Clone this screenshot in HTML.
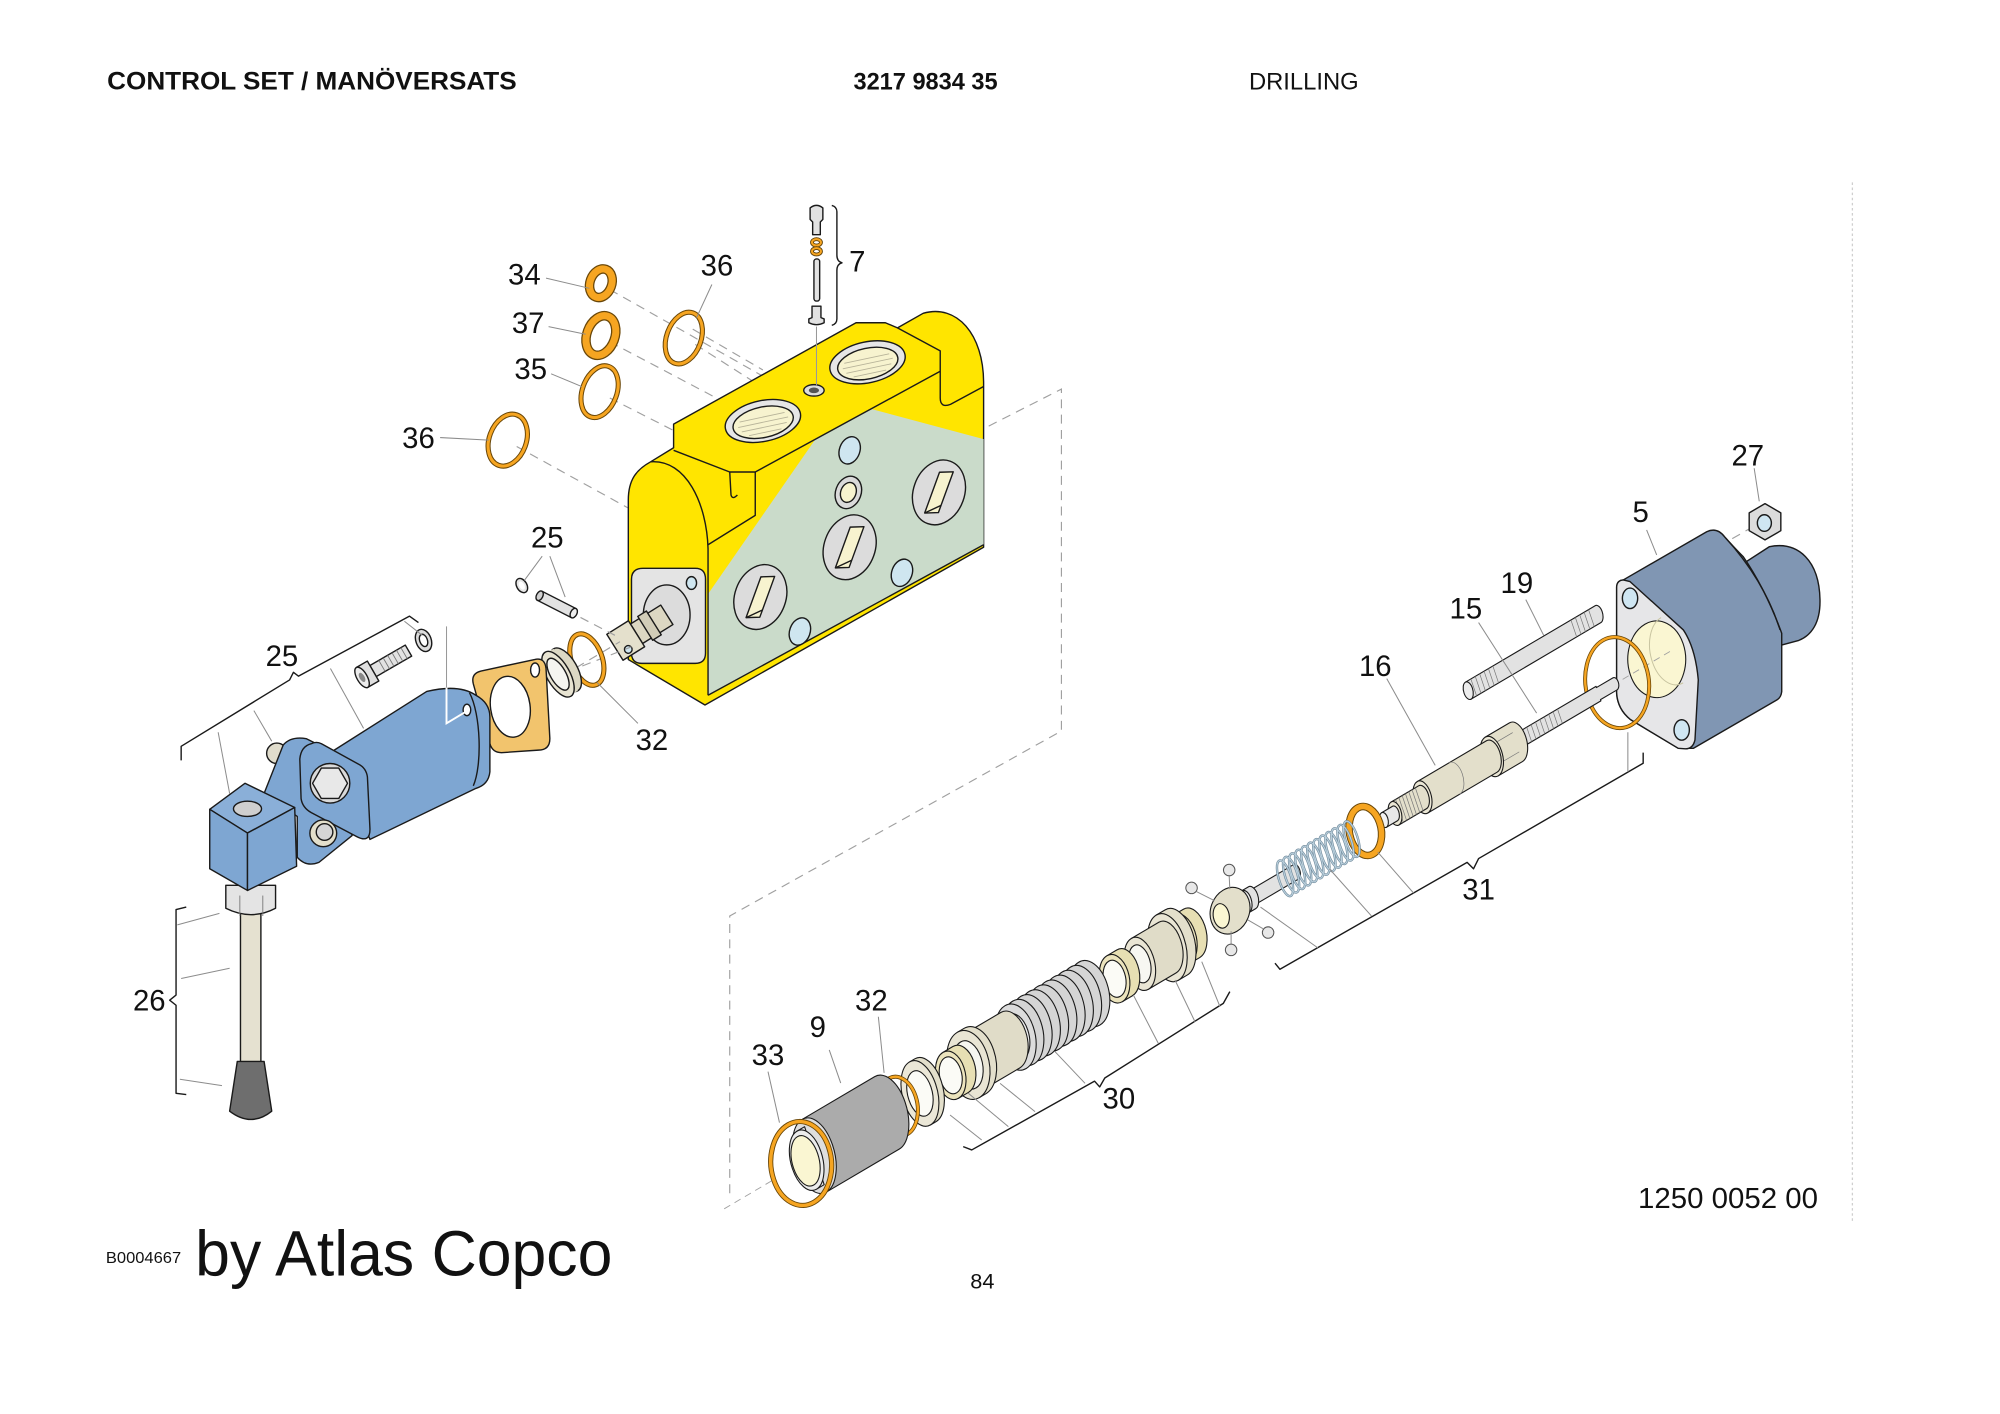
<!DOCTYPE html>
<html><head><meta charset="utf-8"><style>
html,body{margin:0;padding:0;background:#fff;}
svg{display:block;}
</style></head><body>
<svg width="2000" height="1414" viewBox="0 0 1567.7 1108.4" preserveAspectRatio="none" xmlns="http://www.w3.org/2000/svg">
<style>
.o{stroke:#1a1a1a;stroke-width:1.1;stroke-linejoin:round}
.l{stroke:#8c8c8c;stroke-width:0.8;fill:none}
.d{stroke:#a0a0a0;stroke-width:0.9;fill:none;stroke-dasharray:7 5}
.th{stroke:#777;stroke-width:0.7;fill:none}
.f *{vector-effect:non-scaling-stroke}
.rb{fill:none;stroke:#6a4708;stroke-width:5.2}
.ro{fill:none;stroke:#f6a521;stroke-width:3.4}
.rbt{fill:none;stroke:#6a4708;stroke-width:4}
.rot{fill:none;stroke:#f6a521;stroke-width:2.4}
.rbk{fill:none;stroke:#6a4708;stroke-width:7.5}
.rok{fill:none;stroke:#f6a521;stroke-width:5.5}
.sp1{fill:none;stroke:#6d8799;stroke-width:2.4}
.sp2{fill:none;stroke:#b9cfdc;stroke-width:1.2}
text{font-family:"Liberation Sans",Arial,sans-serif;fill:#111}
.lb{font-size:23px;text-anchor:middle}
</style>
<rect width="1567.7" height="1108.4" fill="#fff"/>

<!-- header -->
<text x="84" y="70" font-size="19.5" font-weight="bold" textLength="321" lengthAdjust="spacingAndGlyphs">CONTROL SET / MANÖVERSATS</text>
<text x="669" y="70" font-size="19" font-weight="bold" textLength="113" lengthAdjust="spacingAndGlyphs">3217 9834 35</text>
<text x="979" y="70" font-size="19" textLength="86" lengthAdjust="spacingAndGlyphs">DRILLING</text>

<line x1="1452" y1="143" x2="1452" y2="958" stroke="#cfcfcf" stroke-width="1" stroke-dasharray="2 2"/>

<!-- dashed frame -->
<polyline class="d" points="775,334 832,305 832,573 572,718 572,940"/>

<!-- dashed lines from upper rings -->
<line class="d" x1="478" y1="227" x2="600" y2="296"/>
<line class="d" x1="543" y1="258" x2="598" y2="290"/>
<line class="d" x1="545" y1="270" x2="592" y2="300"/>
<line class="d" x1="478" y1="268" x2="573" y2="318"/>
<line class="d" x1="478" y1="312" x2="533" y2="340"/>
<line class="d" x1="405" y1="350" x2="492" y2="398"/>

<!-- YELLOW BLOCK -->
<path class="o" fill="#ffe500" d="M492.5,517 L492.5,392 C492.5,376 499,368 510,362 L528,351 L528,332.5 L671,253 L694,253 L703.5,257 L723.6,245.6 C750,238 771,262 771,300 L771,429 L552.6,552.6 Z"/>
<path fill="#cadbca" d="M555,545 L555,465.6 L639.2,344.2 L683.4,320.7 L771,344.2 L771,427 Z"/>
<path class="o" fill="none" d="M555,430 L555,545"/>
<path class="o" fill="none" d="M555,545 L771,427"/>
<path class="o" fill="none" stroke-width="0.8" d="M510,362 C538,360 554,395 555,430"/>
<path class="o" fill="none" stroke-width="0.8" d="M528,353 L572,370 L592,370 L737,291"/>
<path class="o" fill="none" stroke-width="0.8" d="M572,370 L573,388 Q574,392 578,388"/>
<path class="o" fill="none" stroke-width="0.8" d="M592,370 L592,404 L555,427"/>
<path class="o" fill="none" stroke-width="0.8" d="M703.5,257 L737,275 L737,312 Q737,320 745,317 L771,303"/>

<!-- flange on end face -->
<path class="o" fill="#e4e4e4" d="M504,445.5 L545,445.5 Q553,445.5 553,454 L553,512 Q553,520 545,520 L503,520 Q495,520 495,512 L495,454 Q495,445.5 504,445.5 Z"/>
<ellipse class="o" cx="522.6" cy="482" rx="18.3" ry="23.5" fill="#dcdcdc"/>
<ellipse class="o" cx="542" cy="457" rx="4" ry="5" fill="#cfe6f0"/>
<g transform="translate(521,483) rotate(-32)">
<rect class="o" x="-26" y="-9" width="28" height="18" fill="#dcd7c2"/>
<rect class="o" x="-18" y="-11" width="8" height="22" fill="#d2cdb8"/>
<rect class="o" x="-46" y="-12" width="20" height="24" fill="#e4e0cc"/>
<ellipse class="o" cx="-38" cy="7" rx="3" ry="3" fill="#cfe6f0"/>
</g>

<!-- top ports -->
<g transform="rotate(-12 598 330)">
<ellipse class="o" cx="598" cy="330" rx="30" ry="16" fill="#e6e6e6"/>
<ellipse class="o" cx="598" cy="331" rx="24" ry="12" fill="#f7f3cf"/>
<path stroke="#b8b49a" stroke-width="0.7" fill="none" d="M580,327 H616 M578,331 H618 M580,335 H616 M585,339 H611"/>
</g>
<g transform="rotate(-12 680 284)">
<ellipse class="o" cx="680" cy="284" rx="30" ry="16" fill="#e6e6e6"/>
<ellipse class="o" cx="680" cy="285" rx="24" ry="12" fill="#f7f3cf"/>
<path stroke="#b8b49a" stroke-width="0.7" fill="none" d="M662,281 H698 M660,285 H700 M662,289 H698 M667,293 H693"/>
</g>
<ellipse class="o" cx="638" cy="306" rx="8" ry="4.5" fill="#ddd"/>
<ellipse cx="638" cy="306" rx="4" ry="2.2" fill="#555"/>

<!-- green face features -->
<ellipse class="o" cx="666" cy="353" rx="8" ry="11" transform="rotate(20 666 353)" fill="#cfe6f0"/>
<ellipse class="o" cx="707" cy="449" rx="8" ry="11" transform="rotate(20 707 449)" fill="#cfe6f0"/>
<ellipse class="o" cx="627" cy="495" rx="8" ry="11" transform="rotate(20 627 495)" fill="#cfe6f0"/>
<ellipse class="o" cx="665" cy="386" rx="10" ry="13" fill="#dadada" transform="rotate(20 665 386)"/>
<ellipse class="o" cx="665" cy="386" rx="6" ry="8" fill="#f7f3cf" transform="rotate(20 665 386)"/>
<g transform="translate(666,429) rotate(20)"><ellipse class="o" rx="20" ry="26" fill="#dcdcdc"/><path class="o" fill="#f7f3cf" d="M-5,-15 L5,-19 L5,15 L-5,19 Z"/><path class="o" fill="none" stroke-width="0.6" d="M-5,19 L5,9"/></g>
<g transform="translate(736,386) rotate(20)"><ellipse class="o" rx="20" ry="26" fill="#dcdcdc"/><path class="o" fill="#f7f3cf" d="M-5,-15 L5,-19 L5,15 L-5,19 Z"/><path class="o" fill="none" stroke-width="0.6" d="M-5,19 L5,9"/></g>
<g transform="translate(596,468) rotate(20)"><ellipse class="o" rx="20" ry="26" fill="#dcdcdc"/><path class="o" fill="#f7f3cf" d="M-5,-15 L5,-19 L5,15 L-5,19 Z"/><path class="o" fill="none" stroke-width="0.6" d="M-5,19 L5,9"/></g>

<!-- upper O-rings -->
<ellipse cx="471" cy="222" rx="8.5" ry="11.5" transform="rotate(20 471 222)" class="rbk"/>
<ellipse cx="471" cy="222" rx="8.5" ry="11.5" transform="rotate(20 471 222)" class="rok"/>
<ellipse cx="471" cy="263" rx="11" ry="16" transform="rotate(20 471 263)" class="rbk"/>
<ellipse cx="471" cy="263" rx="11" ry="16" transform="rotate(20 471 263)" class="rok"/>
<ellipse cx="470" cy="307" rx="13.5" ry="21" transform="rotate(20 470 307)" class="rbt"/>
<ellipse cx="470" cy="307" rx="13.5" ry="21" transform="rotate(20 470 307)" class="rot"/>
<ellipse cx="536" cy="265" rx="13.5" ry="21" transform="rotate(20 536 265)" class="rbt"/>
<ellipse cx="536" cy="265" rx="13.5" ry="21" transform="rotate(20 536 265)" class="rot"/>
<ellipse cx="398" cy="345" rx="14.5" ry="21" transform="rotate(20 398 345)" class="rbt"/>
<ellipse cx="398" cy="345" rx="14.5" ry="21" transform="rotate(20 398 345)" class="rot"/>

<!-- item 7 -->
<path class="o" fill="#e2e2e2" d="M635,163 Q640,159 645,163 L645,172 L643,174 L643,184 L637,184 L637,174 L635,172 Z"/>
<ellipse cx="640" cy="190" rx="3.5" ry="2.5" fill="none" stroke="#5a3d08" stroke-width="3"/>
<ellipse cx="640" cy="190" rx="3.5" ry="2.5" fill="none" stroke="#f6a521" stroke-width="1.6"/>
<ellipse cx="640" cy="197" rx="3.5" ry="2.5" fill="none" stroke="#5a3d08" stroke-width="3"/>
<ellipse cx="640" cy="197" rx="3.5" ry="2.5" fill="none" stroke="#f6a521" stroke-width="1.6"/>
<rect class="o" x="638" y="203" width="4.5" height="33" rx="2" fill="#e2e2e2"/>
<path class="o" fill="#e2e2e2" d="M636.5,240 L643.5,240 L643.5,249 L646,250 L646,253 Q640,256 634,253 L634,250 L636.5,249 Z"/>
<line x1="640" y1="256" x2="640" y2="302" stroke="#999" stroke-width="0.8"/>
<path class="o" fill="none" d="M652,161 Q656,162 656,166 L656,200 Q656,205 660,206 Q656,207 656,212 L656,250 Q656,254 652,255"/>

<!-- item 25 small parts -->
<line class="d" x1="455" y1="484" x2="482" y2="498"/>
<ellipse class="o" cx="409" cy="459" rx="4" ry="6" fill="#e6e6e6" transform="rotate(-30 409 459)"/>
<ellipse cx="409" cy="459" rx="2" ry="3.5" fill="#fff" transform="rotate(-30 409 459)"/>
<g transform="translate(423,467) rotate(27)">
<rect class="o" x="0" y="-4" width="30" height="8" fill="#e2e2e2"/>
<ellipse class="o" cx="30" cy="0" rx="2.5" ry="4" fill="#eee"/>
<ellipse class="o" cx="0" cy="0" rx="2.5" ry="4" fill="#d0d0d0"/>
</g>

<!-- axis dashed lines at left -->
<line class="d" x1="400" y1="554" x2="486" y2="503"/>
<line class="d" x1="367" y1="557" x2="495" y2="507"/>

<!-- ring 32 and bushing near block -->
<ellipse cx="460" cy="517" rx="12" ry="21" transform="rotate(-20 460 517)" class="rbt"/>
<ellipse cx="460" cy="517" rx="12" ry="21" transform="rotate(-20 460 517)" class="rot"/>
<g transform="translate(440,527) rotate(-30)">
<ellipse class="o" cx="4" cy="0" rx="9" ry="19" fill="#dcd8c4"/>
<rect x="-3" y="-19" width="7" height="38" fill="#dcd8c4"/>
<ellipse class="o" cx="-3" cy="0" rx="9" ry="20" fill="#e8e4d2"/>
<ellipse class="o" cx="-3" cy="0" rx="6" ry="14" fill="#f5f5f0"/>
</g>

<!-- gasket -->
<path class="o" fill="#f2c46d" d="M377,526 L419,517 Q427,515 428,524 L431,579 Q431,588 422,588 L393,590 Q386,590 384,583 L371,536 Q369,528 377,526 Z"/>
<ellipse class="o" cx="400" cy="554" rx="15.5" ry="24" fill="#fff" transform="rotate(-8 400 554)"/>
<ellipse class="o" cx="419.4" cy="525.2" rx="3.5" ry="5.5" fill="#fff"/>

<!-- 25 screw and washer -->
<g transform="translate(289,528) rotate(-30)">
<rect class="o" x="4" y="-5" width="32" height="10" fill="#e2e2e2"/>
<path class="th" d="M12,-5V5M16,-5V5M20,-5V5M24,-5V5M28,-5V5M32,-5V5"/>
<rect class="o" x="-6" y="-9" width="10" height="18" fill="#e0e0e0"/>
<ellipse class="o" cx="-6" cy="0" rx="4" ry="9" fill="#ececec"/>
<ellipse cx="-6" cy="0" rx="2" ry="4" fill="#888"/>
</g>
<ellipse class="o" cx="332" cy="502" rx="6" ry="9" fill="#ddd" transform="rotate(-20 332 502)"/>
<ellipse class="o" cx="332" cy="502" rx="3" ry="5" fill="#fff" transform="rotate(-20 332 502)"/>

<!-- blue cylinder assembly -->
<circle class="o" cx="217" cy="590.5" r="8" fill="#e0dccc"/>
<path class="o" fill="#7ea6d2" d="M207,622 L222,584 Q228,577 240,579 L262,590 L276,655 L250,676 Q240,680 233,672 L233,640 Z"/>
<path class="o" fill="#7ea6d2" d="M262,588 L334.5,542 Q360,536 373,545 Q384,551 384,562 L384,605 Q383,615 373,618 L290,658 Z"/>
<path class="o" fill="none" stroke-width="0.7" d="M368,543 C377,560 378,600 371,616"/>
<ellipse class="o" cx="366" cy="556.5" rx="3" ry="4.5" fill="#fff"/>
<line x1="350" y1="491" x2="350" y2="539" stroke="#999" stroke-width="0.8"/>
<path d="M350,539 L350,567 L365,558" stroke="#fff" stroke-width="1.5" fill="none"/>
<path class="o" fill="#7ea6d2" d="M244,583 Q236,585 235,595 L236,626 Q237,633 244,637 L280,656 Q290,661 290,650 L288,609 Q287,602 281,599 L252,583 Q248,581 244,583 Z"/>
<circle class="o" cx="258.7" cy="614" r="15.5" fill="#dadada"/>
<polygon class="o" fill="#e8e8e8" points="272.4,614 265.55,625.9 251.85,625.9 245,614 251.85,602.1 265.55,602.1"/>
<circle class="o" cx="253.4" cy="653.2" r="10.5" fill="#e3dfcb"/>
<circle class="o" cx="254.4" cy="652.2" r="6.5" fill="#d6d6d6"/>

<!-- lever rod, collar, knob, cube -->
<rect class="o" x="188.5" y="714" width="16" height="122" fill="#e5e1d0"/>
<path class="o" fill="#6e6e6e" d="M186,832 L207,832 L213,871 Q197,884 180,871 Z"/>
<path class="o" fill="#e4e4e4" d="M177,694 L177,712 Q197,722 216,712 L216,694 Z"/>
<line x1="188" y1="702" x2="188" y2="718" stroke="#777" stroke-width="0.7"/>
<line x1="206" y1="702" x2="206" y2="718" stroke="#777" stroke-width="0.7"/>
<path class="o" fill="#8aafd8" d="M164.4,634.4 L192,614 L231,633 L194,653 Z"/>
<path class="o" fill="#7ea6d2" d="M164.4,634.4 L194,653 L194,698 L164.4,681 Z"/>
<path class="o" fill="#7ea6d2" d="M194,653 L231,633 L232.5,679 L194,698 Z"/>
<ellipse class="o" cx="194" cy="634" rx="11" ry="6" fill="#cfcfcf"/>

<!-- brackets 25 / 26 -->
<path class="o" fill="none" d="M142,596 L142,585 L227,533 L230,527 L234,530 L321,483 L328,488"/>
<line class="l" x1="171" y1="574" x2="180" y2="622"/>
<line class="l" x1="199" y1="557" x2="213" y2="581"/>
<line class="l" x1="259" y1="524" x2="285" y2="571"/>
<line class="l" x1="317" y1="487" x2="331" y2="498"/>
<path class="o" fill="none" d="M146,711 L138,713 L138,780 L133,784 L138,788 L138,857 L146,858"/>
<line class="l" x1="139" y1="725" x2="172" y2="716"/>
<line class="l" x1="142" y1="767" x2="180" y2="759"/>
<line class="l" x1="141" y1="846" x2="174" y2="851"/>

<!-- HOUSING 5 -->
<path class="o" fill="#8096b3" d="M1360,446 L1387,428.5 C1410,424 1426,440 1426.6,470 C1427,488 1420,498 1410,502 L1395,506 Z"/>
<path class="o" fill="#8096b3" d="M1267.2,460 Q1267.5,455 1272.4,454.6 L1337.8,416.8 Q1346,413 1352,421 Q1362,432 1366.5,436.4 Q1384,462 1396.6,496.4 L1396.6,542.2 Q1396,547 1392.7,548.7 L1327.3,586.6 L1315.5,586.6 L1278,564 Q1268,556 1267.2,543.4 Z"/>
<path class="o" fill="none" stroke-width="0.8" d="M1352,421 Q1383,455 1395.3,493.8"/>
<path class="o" fill="#e6e6e8" d="M1267.2,460 Q1267.5,455 1272.4,454.6 L1277.7,455.9 L1319.5,493.8 Q1329,508 1331.2,533 L1328.6,580 Q1327,587 1321,587 L1315.5,586.6 L1278,564 Q1268,556 1267.2,543.4 Z"/>
<ellipse class="o" cx="1277.7" cy="469" rx="6" ry="8" fill="#cfe6f2"/>
<ellipse class="o" cx="1318.2" cy="572.2" rx="6" ry="8" fill="#cfe6f2"/>
<line class="d" x1="1374.3" y1="412.8" x2="1356" y2="423.3"/>
<polygon class="o" fill="#dcdcdc" points="1395.9,402 1395.9,416 1383.5,423.2 1371.1,416 1371.1,402 1383.5,394.8"/>
<ellipse class="o" cx="1383" cy="410" rx="5.5" ry="6.5" fill="#cfe6f2"/>

<!-- AXIS FRAME PARTS -->
<g class="f" transform="matrix(0.862,-0.508,0.32,0.947,628,912)">
<ellipse class="o" cx="778" cy="0" rx="24" ry="29" fill="#faf6d2"/>
<path d="M792,-27 A18,27 0 0 0 792,27" stroke="#c8c4a0" fill="none"/>
<line class="d" x1="700" y1="0" x2="790" y2="0"/>
<!-- stud 19 -->
<g transform="translate(0,-55)">
<path class="o" fill="#e2e2e2" d="M627,-7 H745 A3.8,7 0 0 1 745,7 H627 Z"/>
<ellipse class="o" cx="627" cy="0" rx="3.8" ry="7" fill="#ececec"/>
<path class="th" d="M632,-7V7M636,-7V7M640,-7V7M644,-7V7M648,-7V7M652,-7V7M723,-7V7M727,-7V7M731,-7V7M735,-7V7M739,-7V7"/>
</g>
<!-- big ring -->
<ellipse cx="742" cy="0" rx="26" ry="35" class="rbt"/>
<ellipse cx="742" cy="0" rx="26" ry="35" class="rot"/>
<!-- stud 15 -->
<path class="o" fill="#e2e2e2" d="M653,-6 H725 L725,-5 H740 A3,5 0 0 1 740,5 H725 V6 H653 Z"/>
<ellipse class="o" cx="653" cy="0" rx="3.3" ry="6" fill="#ececec"/>
<path class="th" d="M658,-6V6M662,-6V6M666,-6V6M670,-6V6M674,-6V6M678,-6V6M682,-6V6M686,-6V6M690,-6V6"/>
<!-- part 16 -->
<path class="o" fill="#e3dfcb" d="M628,-16 H650 A8.8,16 0 0 1 650,16 H628 Z"/>
<path class="th" d="M628,-8 H650 M628,8 H650"/>
<ellipse class="o" cx="628" cy="0" rx="8.8" ry="16" fill="#ebe7d5"/>
<path class="o" fill="#e3dfcb" d="M565,-13 H628 A7.2,13 0 0 1 628,13 H565 Z"/>
<path class="th" d="M594,-13 A7.2,13 0 0 1 594,13"/>
<ellipse class="o" cx="565" cy="0" rx="7.2" ry="13" fill="#ebe7d5"/>
<path class="o" fill="#e3dfcb" d="M540,-9.5 H565 A5.2,9.5 0 0 1 565,9.5 H540 Z"/>
<path class="th" d="M544,-9.5V9.5M547,-9.5V9.5M550,-9.5V9.5M553,-9.5V9.5M556,-9.5V9.5M559,-9.5V9.5M562,-9.5V9.5"/>
<ellipse class="o" cx="540" cy="0" rx="5.2" ry="9.5" fill="#ebe7d5"/>
<path class="o" fill="#e8e8e8" d="M530,-6 H540 A3.3,6 0 0 1 540,6 H530 Z"/>
<ellipse class="o" cx="530" cy="0" rx="3.3" ry="6" fill="#f2f2f2"/>
<!-- orange ring -->
<ellipse cx="513" cy="0" rx="13" ry="19" class="rbk"/>
<ellipse cx="513" cy="0" rx="13" ry="19" class="rok"/>
<!-- shaft and spring -->
<path class="o" fill="#e2e2e2" d="M406,-6 H450 A3.3,6 0 0 1 450,6 H406 Z"/>
<g>
<ellipse class="sp1" cx="440" cy="0" rx="5" ry="14.5"/><ellipse class="sp1" cx="445.5" cy="0" rx="5" ry="14.5"/><ellipse class="sp1" cx="451" cy="0" rx="5" ry="14.5"/><ellipse class="sp1" cx="456.5" cy="0" rx="5" ry="14.5"/><ellipse class="sp1" cx="462" cy="0" rx="5" ry="14.5"/><ellipse class="sp1" cx="467.5" cy="0" rx="5" ry="14.5"/><ellipse class="sp1" cx="473" cy="0" rx="5" ry="14.5"/><ellipse class="sp1" cx="478.5" cy="0" rx="5" ry="14.5"/><ellipse class="sp1" cx="484" cy="0" rx="5" ry="14.5"/><ellipse class="sp1" cx="489.5" cy="0" rx="5" ry="14.5"/><ellipse class="sp1" cx="495" cy="0" rx="5" ry="14.5"/><ellipse class="sp1" cx="500.5" cy="0" rx="5" ry="14.5"/>
<ellipse class="sp2" cx="440" cy="0" rx="5" ry="14.5"/><ellipse class="sp2" cx="445.5" cy="0" rx="5" ry="14.5"/><ellipse class="sp2" cx="451" cy="0" rx="5" ry="14.5"/><ellipse class="sp2" cx="456.5" cy="0" rx="5" ry="14.5"/><ellipse class="sp2" cx="462" cy="0" rx="5" ry="14.5"/><ellipse class="sp2" cx="467.5" cy="0" rx="5" ry="14.5"/><ellipse class="sp2" cx="473" cy="0" rx="5" ry="14.5"/><ellipse class="sp2" cx="478.5" cy="0" rx="5" ry="14.5"/><ellipse class="sp2" cx="484" cy="0" rx="5" ry="14.5"/><ellipse class="sp2" cx="489.5" cy="0" rx="5" ry="14.5"/><ellipse class="sp2" cx="495" cy="0" rx="5" ry="14.5"/><ellipse class="sp2" cx="500.5" cy="0" rx="5" ry="14.5"/>
</g>
<!-- collar and ball -->
<path class="o" fill="#e2e2e2" d="M404,-9 H410 A5,9 0 0 1 410,9 H404 Z"/>
<ellipse class="o" cx="404" cy="0" rx="5" ry="9" fill="#ececec"/>
<ellipse class="o" cx="390" cy="0" rx="17" ry="17" fill="#e3dfcb"/>
<ellipse class="o" cx="382" cy="0" rx="6.5" ry="9.5" fill="#faf6d2"/>
<!-- ring -->
<path class="o" fill="#e7dfb3" d="M346,-20 H355 A12,20 0 0 1 355,20 H346 Z"/>
<ellipse class="o" cx="346" cy="0" rx="12" ry="20" fill="#ece4bd"/>
<ellipse class="o" cx="346" cy="0" rx="9" ry="15.5" fill="#fbfbf6"/>
<!-- bushing A -->
<path class="o" fill="#e3dfcb" d="M333,-27 H341 A15,27 0 0 1 341,27 H333 Z"/>
<ellipse class="o" cx="333" cy="0" rx="15" ry="27" fill="#e9e5d4"/>
<path class="o" fill="#e0dcc8" d="M308,-21 H333 A12,21 0 0 1 333,21 H308 Z"/>
<ellipse class="o" cx="308" cy="0" rx="12" ry="21" fill="#e9e5d4"/>
<ellipse class="o" cx="308" cy="0" rx="8.5" ry="15" fill="#f7f7f2"/>
<!-- ring -->
<path class="o" fill="#e7dfb3" d="M285,-19 H294 A12,19 0 0 1 294,19 H285 Z"/>
<ellipse class="o" cx="285" cy="0" rx="12" ry="19" fill="#ece4bd"/>
<ellipse class="o" cx="285" cy="0" rx="9" ry="14.5" fill="#fbfbf6"/>
<!-- bellows -->
<ellipse class="o" cx="262" cy="0" rx="16" ry="26" fill="#d5d5d5"/>
<ellipse class="o" cx="254.5" cy="0" rx="16" ry="26" fill="#d5d5d5"/>
<ellipse class="o" cx="247" cy="0" rx="16" ry="26" fill="#d5d5d5"/>
<ellipse class="o" cx="239.5" cy="0" rx="16" ry="26" fill="#d5d5d5"/>
<ellipse class="o" cx="232" cy="0" rx="16" ry="26" fill="#d5d5d5"/>
<ellipse class="o" cx="224.5" cy="0" rx="16" ry="26" fill="#d5d5d5"/>
<ellipse class="o" cx="217" cy="0" rx="16" ry="26" fill="#d5d5d5"/>
<ellipse class="o" cx="209.5" cy="0" rx="16" ry="26" fill="#d5d5d5"/>
<ellipse class="o" cx="202" cy="0" rx="16" ry="26" fill="#d5d5d5"/>
<ellipse class="o" cx="195" cy="0" rx="16" ry="26" fill="#dcdcdc"/>
<ellipse class="o" cx="195" cy="0" rx="11" ry="18.5" fill="#f0f0f0"/>
<!-- bushing B -->
<path class="o" fill="#e0dcc8" d="M158,-23 H190 A14,23 0 0 1 190,23 H158 Z"/>
<path class="o" fill="#e3dfcb" d="M152,-27 H158 A17,27 0 0 1 158,27 H152 Z"/>
<ellipse class="o" cx="152" cy="0" rx="17" ry="27" fill="#e9e5d4"/>
<ellipse class="o" cx="152" cy="0" rx="11.5" ry="19" fill="#f6f6f0"/>
<!-- ring -->
<path class="o" fill="#e7dfb3" d="M136,-19 H145 A12,19 0 0 1 145,19 H136 Z"/>
<ellipse class="o" cx="136" cy="0" rx="12" ry="19" fill="#ece4bd"/>
<ellipse class="o" cx="136" cy="0" rx="9" ry="14.5" fill="#fbfbf6"/>
<!-- washer -->
<path class="o" fill="#e3dfcb" d="M108,-26 H113 A14.3,26 0 0 1 113,26 H108 Z"/>
<ellipse class="o" cx="108" cy="0" rx="14.3" ry="26" fill="#ebe7d7"/>
<ellipse class="o" cx="108" cy="0" rx="10" ry="18" fill="#fbfbf6"/>
<!-- ring 32 -->
<ellipse cx="88" cy="0" rx="16" ry="23" class="rbt"/>
<ellipse cx="88" cy="0" rx="16" ry="23" class="rot"/>
<!-- part 9 -->
<path class="o" fill="#ababab" d="M12,-30 H78 A16.5,30 0 0 1 78,30 H12 Z"/>
<ellipse class="o" cx="12" cy="0" rx="16.5" ry="30" fill="#dedede"/>
<path class="o" fill="#e6e6e6" d="M5,-24 H12 V24 H5 Z"/>
<ellipse class="o" cx="5" cy="0" rx="13" ry="24" fill="#ececec"/>
<ellipse class="o" cx="4" cy="0" rx="11" ry="20" fill="#faf6d2"/>
<!-- ring 33 -->
<ellipse cx="0" cy="0" rx="25" ry="32" class="rb"/>
<ellipse cx="0" cy="0" rx="25" ry="32" class="ro"/>
<line class="d" x1="-70" y1="0" x2="-24" y2="0"/>
</g>

<!-- small balls -->
<line class="l" x1="938" y1="699" x2="952" y2="706"/>
<line class="l" x1="963.5" y1="686.5" x2="964" y2="697"/>
<line class="l" x1="990" y1="728" x2="978" y2="721"/>
<line class="l" x1="965" y1="740" x2="965" y2="730"/>
<circle cx="934" cy="696" r="4.5" fill="#e8e8e8" stroke="#555" stroke-width="0.8"/>
<circle cx="963.5" cy="682" r="4.5" fill="#e8e8e8" stroke="#555" stroke-width="0.8"/>
<circle cx="994" cy="731" r="4.5" fill="#e8e8e8" stroke="#555" stroke-width="0.8"/>
<circle cx="965" cy="744.6" r="4.5" fill="#e8e8e8" stroke="#555" stroke-width="0.8"/>

<!-- bracket 31 -->
<path class="o" fill="none" d="M1288,590 L1288,598.3 L1159,673 L1155,681 L1150,676 L1003.3,759.8 L999.4,755"/>
<line class="l" x1="1276" y1="574" x2="1276" y2="605"/>
<line class="l" x1="1080" y1="668" x2="1108" y2="700"/>
<line class="l" x1="1042" y1="681" x2="1075" y2="718"/>
<line class="l" x1="988" y1="711" x2="1033" y2="743"/>

<!-- bracket 30 -->
<path class="o" fill="none" d="M755,898.8 L761.7,901.4 L858,847.5 L862,852 L866,845 L958.9,786.5 L964,777.3"/>
<line class="l" x1="769.5" y1="893.6" x2="744.7" y2="874"/>
<line class="l" x1="790.4" y1="883.1" x2="759" y2="857"/>
<line class="l" x1="811.3" y1="871.4" x2="783.9" y2="849.2"/>
<line class="l" x1="850.5" y1="849.2" x2="827" y2="824.4"/>
<line class="l" x1="907.9" y1="817.8" x2="888.4" y2="780"/>
<line class="l" x1="936.7" y1="800.9" x2="921" y2="768.2"/>
<line class="l" x1="956.3" y1="789.1" x2="942" y2="753.8"/>

<!-- leaders -->
<line class="l" x1="428" y1="218" x2="462" y2="226"/>
<line class="l" x1="430" y1="256" x2="459" y2="262"/>
<line class="l" x1="432" y1="293" x2="456" y2="303"/>
<line class="l" x1="345" y1="343" x2="383" y2="345"/>
<line class="l" x1="558" y1="223" x2="546" y2="249"/>
<line class="l" x1="425" y1="436" x2="411" y2="455"/>
<line class="l" x1="431" y1="436" x2="443" y2="468"/>
<line class="l" x1="500" y1="567" x2="468" y2="535"/>
<line class="l" x1="650" y1="823" x2="659" y2="849"/>
<line class="l" x1="602" y1="840" x2="611" y2="880"/>
<line class="l" x1="688.5" y1="797" x2="693" y2="841"/>
<line class="l" x1="1087" y1="532" x2="1125" y2="600"/>
<line class="l" x1="1159" y1="488" x2="1204.5" y2="559"/>
<line class="l" x1="1196" y1="470" x2="1210" y2="498"/>
<line class="l" x1="1290.7" y1="415.4" x2="1298.6" y2="435"/>
<line class="l" x1="1375" y1="367" x2="1379" y2="393"/>

<!-- labels -->
<text class="lb" x="411" y="223">34</text>
<text class="lb" x="414" y="261">37</text>
<text class="lb" x="416" y="297">35</text>
<text class="lb" x="328" y="351">36</text>
<text class="lb" x="562" y="216">36</text>
<text class="lb" x="672" y="213">7</text>
<text class="lb" x="429" y="429">25</text>
<text class="lb" x="221" y="522">25</text>
<text class="lb" x="511" y="588">32</text>
<text class="lb" x="117" y="792">26</text>
<text class="lb" x="1370" y="365">27</text>
<text class="lb" x="1286" y="409">5</text>
<text class="lb" x="1189" y="465">19</text>
<text class="lb" x="1149" y="485">15</text>
<text class="lb" x="1078" y="530">16</text>
<text class="lb" x="1159" y="705">31</text>
<text class="lb" x="877" y="869">30</text>
<text class="lb" x="683" y="792">32</text>
<text class="lb" x="641" y="813">9</text>
<text class="lb" x="602" y="835">33</text>

<!-- footer -->
<text x="1284" y="947" font-size="22.5" textLength="141" lengthAdjust="spacingAndGlyphs">1250 0052 00</text>
<text x="83" y="990" font-size="12.5" textLength="59" lengthAdjust="spacingAndGlyphs">B0004667</text>
<text x="153" y="1000" font-size="50" textLength="327" lengthAdjust="spacingAndGlyphs">by Atlas Copco</text>
<text x="770" y="1010" font-size="17" text-anchor="middle">84</text>
</svg>
</body></html>
